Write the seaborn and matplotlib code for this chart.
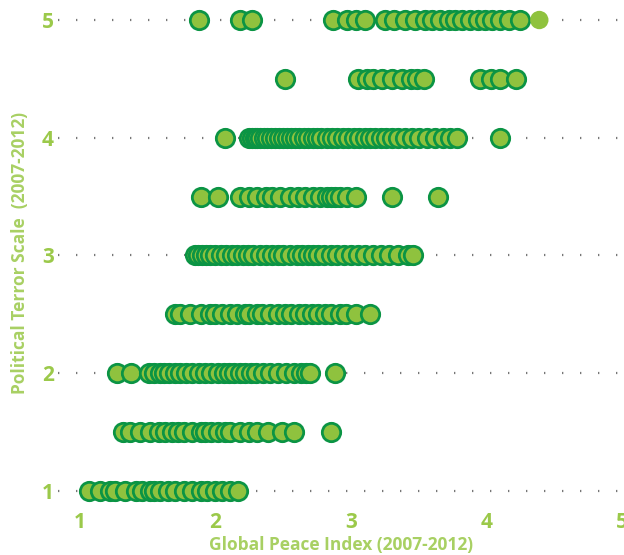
import matplotlib
matplotlib.use("Agg")
import matplotlib.pyplot as plt
import seaborn as sns
import pandas as pd

# Political Terror Scale levels and Global Peace Index values
pts_levels = [1, 1.5, 2, 2.5, 3, 3.5, 4, 4.5, 5]
gpi_1 = [1.07, 1.15, 1.22, 1.26, 1.33, 1.41, 1.46, 1.52, 1.55, 1.59, 1.65, 1.70,
         1.77, 1.83, 1.89, 1.94, 2.00, 2.05, 2.11, 2.17]
gpi_1_5 = [1.32, 1.37, 1.44, 1.52, 1.58, 1.63, 1.68, 1.72, 1.77, 1.83, 1.89, 1.92,
           1.97, 2.02, 2.07, 2.11, 2.18, 2.25, 2.31, 2.39, 2.49, 2.58, 2.85]
gpi_2 = [1.27, 1.38, 1.51, 1.55, 1.59, 1.62, 1.66, 1.70, 1.74, 1.78, 1.83, 1.88,
         1.92, 1.97, 2.02, 2.06, 2.10, 2.14, 2.18, 2.22, 2.26, 2.30, 2.35, 2.40,
         2.46, 2.52, 2.58, 2.63, 2.67, 2.70, 2.88]
gpi_2_5 = [1.70, 1.74, 1.81, 1.89, 1.96, 2.00, 2.05, 2.11, 2.16, 2.22, 2.25, 2.31,
           2.34, 2.40, 2.46, 2.51, 2.56, 2.62, 2.66, 2.71, 2.76, 2.81, 2.85, 2.92,
           2.96, 3.04, 3.14]
gpi_3 = [1.85, 1.87, 1.90, 1.93, 1.96, 2.00, 2.04, 2.08, 2.12, 2.16, 2.20, 2.24,
         2.28, 2.33, 2.37, 2.42, 2.46, 2.50, 2.55, 2.60, 2.64, 2.68, 2.72, 2.76,
         2.80, 2.85, 2.90, 2.95, 3.00, 3.05, 3.10, 3.16, 3.22, 3.28, 3.35, 3.42, 3.46]
gpi_3_5 = [1.89, 2.02, 2.18, 2.25, 2.31, 2.37, 2.42, 2.48, 2.55, 2.61, 2.66, 2.72,
           2.77, 2.82, 2.85, 2.88, 2.92, 2.97, 3.04, 3.30, 3.64]
gpi_4 = [2.07, 2.25, 2.27, 2.29, 2.31, 2.33, 2.36, 2.38, 2.41, 2.44, 2.47, 2.50,
         2.53, 2.56, 2.59, 2.62, 2.65, 2.68, 2.72, 2.75, 2.78, 2.82, 2.86, 2.90,
         2.94, 2.98, 3.02, 3.06, 3.10, 3.14, 3.18, 3.22, 3.26, 3.30, 3.35, 3.40,
         3.45, 3.50, 3.56, 3.62, 3.68, 3.73, 3.78, 4.10]
gpi_4_5 = [2.51, 3.05, 3.12, 3.16, 3.23, 3.30, 3.38, 3.44, 3.49, 3.54, 3.95, 4.03,
           4.10, 4.22]
gpi_5 = [1.88, 2.18, 2.27, 2.87, 2.97, 3.04, 3.10, 3.25, 3.32, 3.40, 3.47, 3.55,
         3.60, 3.66, 3.72, 3.77, 3.82, 3.88, 3.94, 3.99, 4.04, 4.10, 4.17, 4.25]
highlight_gpi = [4.39]
highlight_pts = [5]

x_ticks = [1, 2, 3, 4, 5]
y_ticks = [1, 2, 3, 4, 5]
x_label = "Global Peace Index (2007-2012)"
y_label = "Political Terror Scale  (2007-2012)"

rows = [gpi_1, gpi_1_5, gpi_2, gpi_2_5, gpi_3, gpi_3_5, gpi_4, gpi_4_5, gpi_5]
records = []
for lvl, vals in zip(pts_levels, rows):
    for v in vals:
        records.append({"gpi": v, "pts": lvl})
df = pd.DataFrame(records)
df_hl = pd.DataFrame({"gpi": highlight_gpi, "pts": highlight_pts})

sns.set_theme(style="white")
plt.rcParams['font.family'] = ['Open Sans', 'DejaVu Sans']

fill = "#8fc23e"
edge = "#0b9444"
tick_col = "#9bc94a"
label_col = "#a8d063"

fig = plt.figure(figsize=(6.24, 5.55), dpi=100)
ax = fig.add_axes([58/624, 50/555, 566/624, 505/555])

for y in y_ticks:
    ax.axhline(y, color="#777777", lw=1.6, linestyle=(0, (0.6, 7.5)), zorder=0)

sns.scatterplot(data=df, x="gpi", y="pts", ax=ax, s=175, color=fill,
                edgecolor=edge, linewidth=2.0, zorder=3, legend=False)
sns.scatterplot(data=df_hl, x="gpi", y="pts", ax=ax, s=175, color=fill,
                edgecolor="none", linewidth=0, zorder=4, legend=False)

ax.set_xlim(0.838, 5.015)
ax.set_ylim(0.88, 5.17)
ax.set_xticks(x_ticks)
ax.set_yticks(y_ticks)
ax.set_xticklabels([str(t) for t in x_ticks])
ax.set_yticklabels([str(t) for t in y_ticks])
for s in ax.spines.values():
    s.set_visible(False)
ax.tick_params(axis="both", length=0, labelsize=15, labelcolor=tick_col)
ax.tick_params(axis="y", pad=3)
ax.tick_params(axis="x", pad=5)
for lab in ax.get_xticklabels() + ax.get_yticklabels():
    lab.set_fontweight("bold")
ax.set_xlabel(x_label, fontsize=12.5, color=label_col, fontweight="bold", labelpad=2)
ax.set_ylabel(y_label, fontsize=12.5, color=label_col, fontweight="bold", labelpad=9)
ax.grid(False)

fig.savefig("out.png", dpi=100)
